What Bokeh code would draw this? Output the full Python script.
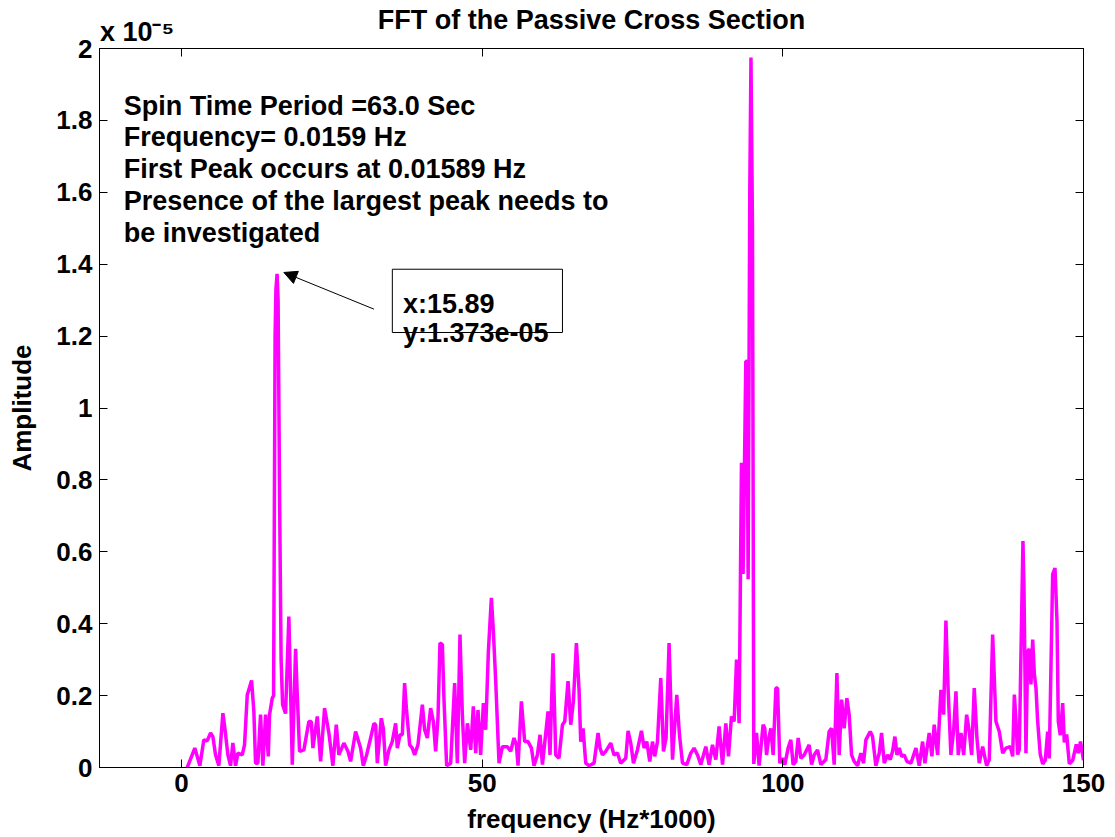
from bokeh.plotting import figure
from bokeh.models import (Range1d, LinearAxis, FixedTicker, Label, Arrow,
                          NormalHead, BoxAnnotation, CustomLabelingPolicy)
from bokeh.embed import file_html
from bokeh.resources import INLINE

# ---- data (frequency in Hz*1000, amplitude in units of 1e-5) ----
freq = [0.95, 2.21, 3.05, 3.71, 4.27, 4.83, 5.21, 5.66, 6.21, 6.88, 7.21, 7.71, 8.15, 8.54, 8.99,
        9.37, 10.1, 10.48, 10.93, 11.65, 12.03, 12.31, 12.7, 13.14, 13.53, 13.98, 14.43, 14.64,
        15.09, 15.31, 15.56, 15.7, 15.89, 16.06, 16.31, 16.56, 16.81, 17.3, 17.85, 18.42, 18.97,
        19.25, 19.63, 20.35, 21.18, 21.58, 21.85, 22.58, 23.13, 23.79, 24.51, 25.17, 25.74, 26.17,
        27.0, 27.67, 28.12, 28.95, 29.78, 30.23, 30.78, 31.45, 32.0, 32.28, 32.56, 33.22, 33.56,
        33.94, 34.5, 35.05, 35.61, 35.89, 36.33, 36.72, 37.1, 37.39, 37.94, 38.38, 38.77, 39.32,
        40.05, 40.43, 40.88, 41.43, 41.88, 42.26, 42.65, 42.98, 43.38, 43.64, 44.09, 44.76, 45.42,
        45.87, 46.31, 46.7, 47.09, 47.54, 48.09, 48.53, 48.92, 49.3, 49.75, 50.2, 50.58, 51.03,
        51.53, 51.86, 52.25, 52.8, 53.36, 54.19, 54.74, 55.29, 55.69, 55.96, 56.52, 57.07, 57.62,
        58.19, 58.62, 59.18, 59.62, 60.02, 60.4, 60.95, 61.28, 61.78, 62.23, 62.78, 63.35, 63.73,
        64.28, 64.73, 65.17, 65.67, 66.11, 66.39, 66.78, 67.22, 67.77, 68.6, 69.27, 69.6, 70.0,
        70.55, 71.38, 71.93, 72.5, 73.04, 73.88, 74.26, 74.71, 75.16, 75.82, 76.49, 76.92, 77.37,
        77.87, 78.32, 78.7, 79.15, 79.7, 80.15, 80.58, 81.08, 81.65, 82.36, 82.81, 83.31, 84.03,
        84.69, 85.24, 85.81, 86.36, 87.19, 87.74, 88.3, 88.85, 89.4, 89.97, 90.52, 90.96, 91.46,
        91.9, 92.3, 92.73, 93.12, 93.39, 93.84, 94.01, 94.23, 94.5, 94.7, 94.95, 95.17, 95.62,
        96.06, 96.72, 97.0, 97.29, 97.56, 98.0, 98.39, 98.84, 99.12, 99.5, 99.95, 100.33, 100.88,
        101.33, 101.71, 102.16, 102.55, 103.0, 103.55, 104.38, 104.78, 105.21, 105.77, 106.32,
        107.15, 107.7, 108.1, 108.54, 108.99, 109.37, 109.77, 110.2, 110.65, 111.03, 111.43,
        111.86, 112.43, 112.98, 113.42, 113.81, 114.53, 114.92, 115.47, 116.03, 116.42, 116.86,
        117.42, 117.86, 118.25, 118.64, 118.97, 119.35, 119.75, 120.18, 120.63, 121.3, 122.13,
        122.68, 123.24, 123.63, 124.34, 124.79, 125.17, 125.74, 126.29, 126.74, 127.12, 127.5,
        127.95, 128.4, 128.79, 129.17, 129.62, 130.07, 130.57, 131.0, 131.4, 131.83, 132.28,
        132.66, 133.23, 133.89, 134.33, 134.89, 135.44, 135.99, 136.56, 137.1, 137.82, 138.22,
        138.5, 138.77, 139.05, 139.32, 139.93, 140.1, 140.43, 140.72, 140.98, 141.26, 141.55,
        141.83, 142.1, 142.38, 142.81, 143.21, 143.64, 144.04, 144.31, 144.87, 145.26, 145.59,
        145.81, 146.14, 146.54, 146.81, 147.2, 147.64, 148.2, 148.8, 149.13, 149.5, 150.0]

amp = [0.0, 0.054, 0.005, 0.077, 0.074, 0.096, 0.086, 0.035, 0.005, 0.151, 0.109, 0.035, 0.005, 0.068, 0.005,
       0.04, 0.035, 0.063, 0.202, 0.242, 0.156, 0.012, 0.012, 0.147, 0.005, 0.147, 0.031, 0.147,
       0.193, 0.2, 1.2, 1.33, 1.373, 1.3, 0.75, 0.3, 0.175, 0.15, 0.42, 0.008, 0.33,
       0.202, 0.045, 0.049, 0.128, 0.128, 0.054, 0.142, 0.017, 0.165, 0.096, 0.005, 0.119, 0.035,
       0.068, 0.045, 0.017, 0.1, 0.054, 0.005, 0.035, 0.082, 0.123, 0.119, 0.012, 0.137, 0.109,
       0.005, 0.049, 0.072, 0.123, 0.054, 0.091, 0.091, 0.235, 0.165, 0.063, 0.054, 0.035, 0.063,
       0.175, 0.105, 0.082, 0.165, 0.128, 0.045, 0.137, 0.346, 0.342, 0.193, 0.005, 0.012, 0.235,
       0.012, 0.37, 0.147, 0.012, 0.123, 0.049, 0.17, 0.04, 0.16, 0.035, 0.179, 0.105, 0.323,
       0.472, 0.379, 0.24, 0.012, 0.058, 0.058, 0.045, 0.082, 0.063, 0.005, 0.184, 0.072, 0.072,
       0.054, 0.005, 0.035, 0.091, 0.008, 0.068, 0.156, 0.035, 0.318, 0.035, 0.026, 0.119, 0.128,
       0.24, 0.119, 0.184, 0.346, 0.216, 0.072, 0.109, 0.012, 0.005, 0.012, 0.096, 0.054, 0.035,
       0.045, 0.068, 0.035, 0.04, 0.012, 0.026, 0.102, 0.068, 0.012, 0.049, 0.102, 0.054, 0.072,
       0.017, 0.072, 0.031, 0.072, 0.249, 0.045, 0.082, 0.346, 0.022, 0.202, 0.091, 0.012, 0.008,
       0.04, 0.054, 0.035, 0.008, 0.058, 0.008, 0.063, 0.022, 0.114, 0.008, 0.123, 0.031, 0.142,
       0.128, 0.3, 0.123, 0.848, 0.538, 1.13, 1.13, 0.524, 1.6, 1.975, 1.5, 0.01, 0.096,
       0.005, 0.119, 0.109, 0.035, 0.072, 0.109, 0.035, 0.221, 0.221, 0.012, 0.026, 0.008, 0.054,
       0.077, 0.008, 0.017, 0.082, 0.026, 0.035, 0.063, 0.008, 0.035, 0.049, 0.008,
       0.022, 0.1, 0.109, 0.008, 0.263, 0.035, 0.189, 0.109, 0.193, 0.147, 0.035,
       0.017, 0.005, 0.04, 0.012, 0.077, 0.1, 0.086, 0.005, 0.04, 0.096, 0.012,
       0.035, 0.022, 0.045, 0.086, 0.035, 0.054, 0.031, 0.035, 0.017, 0.012, 0.054,
       0.005, 0.072, 0.012, 0.096, 0.031, 0.119, 0.035, 0.216, 0.147, 0.409, 0.212,
       0.035, 0.102, 0.212, 0.035, 0.096, 0.035, 0.147, 0.1, 0.035, 0.221, 0.082,
       0.012, 0.058, 0.005, 0.022, 0.37, 0.128, 0.1, 0.04, 0.054, 0.058, 0.031,
       0.203, 0.13, 0.036, 0.05, 0.63, 0.5, 0.04, 0.323, 0.33, 0.231, 0.356,
       0.26, 0.22, 0.128, 0.036, 0.01, 0.02, 0.1, 0.025, 0.537, 0.555, 0.407,
       0.128, 0.09, 0.179, 0.07, 0.092, 0.01, 0.02, 0.064, 0.04, 0.072, 0.02]

x_ticks = [0, 50, 100, 150]
x_tick_labels = ["0", "50", "100", "150"]
y_ticks = [0, 0.2, 0.4, 0.6, 0.8, 1, 1.2, 1.4, 1.6, 1.8, 2]
y_tick_labels = ["0", "0.2", "0.4", "0.6", "0.8", "1", "1.2", "1.4", "1.6", "1.8", "2"]
exponent_text = "x 10\u207b\u2075"
exponent_pos = -7.4

title_text = "FFT of the Passive Cross Section"
x_label = "frequency (Hz*1000)"
y_label = "Amplitude"
info_lines = ["Spin Time Period =63.0  Sec",
              "Frequency= 0.0159  Hz",
              "First Peak occurs at 0.01589  Hz",
              "Presence of the largest peak  needs to",
              "be  investigated"]
tip_lines = ["x:15.89", "y:1.373e-05"]
peak_x, peak_y = 15.89, 1.373

FONT = "Liberation Sans"
FS = "27px"

p = figure(width=1115, height=837, x_range=Range1d(-13.64, 150), y_range=Range1d(0, 2),
           output_backend="svg", toolbar_location=None, tools="",
           min_border_left=99, min_border_right=32, min_border_top=48, min_border_bottom=70,
           x_axis_label=x_label, y_axis_label=y_label)
p.grid.visible = False
p.outline_line_color = "black"
p.background_fill_color = "white"
p.border_fill_color = "white"

p.line(freq, amp, line_color="#FF00FF", line_width=3.5)

no_labels = CustomLabelingPolicy(code="""
for (const i of indices) indices.unset(i)
return indices
""")


def style_text(ax, size="26px"):
    ax.major_label_text_font = FONT
    ax.major_label_text_font_size = size
    ax.major_label_text_font_style = "bold"
    ax.major_label_text_color = "black"
    ax.axis_label_text_font = FONT
    ax.axis_label_text_font_size = size
    ax.axis_label_text_font_style = "bold"
    ax.axis_label_text_color = "black"


def style_axis(ax, ticks, labels, show_labels=True):
    ax.ticker = FixedTicker(ticks=ticks)
    ax.major_tick_in = 8
    ax.major_tick_out = 0
    ax.minor_tick_line_color = None
    ax.axis_line_color = "black"
    ax.major_tick_line_color = "black"
    if show_labels:
        ax.major_label_overrides = dict(zip(ticks, labels))
        style_text(ax)
    else:
        ax.major_label_policy = no_labels
        ax.major_label_standoff = 0


xa = p.xaxis[0]
style_axis(xa, x_ticks, x_tick_labels)
xa.major_label_standoff = 6
xa.axis_label_standoff = 9

ya = p.yaxis[0]
style_axis(ya, y_ticks, y_tick_labels)
ya.major_label_standoff = 7
ya.axis_label_standoff = 16

# top axis: ticks only (box look)
top_ax = LinearAxis()
style_axis(top_ax, x_ticks, x_tick_labels, show_labels=False)
p.add_layout(top_ax, "above")

# right axis: ticks only
right_ax = LinearAxis()
style_axis(right_ax, y_ticks, y_tick_labels, show_labels=False)
p.add_layout(right_ax, "right")

# text row above the frame: exponent marker and the chart title
head_ax = LinearAxis(ticker=FixedTicker(ticks=[exponent_pos]),
                     major_label_overrides={exponent_pos: exponent_text},
                     axis_label=title_text)
style_text(head_ax, FS)
head_ax.axis_line_color = None
head_ax.major_tick_line_color = None
head_ax.minor_tick_line_color = None
head_ax.major_tick_in = 0
head_ax.major_tick_out = 0
head_ax.major_label_standoff = -9
head_ax.axis_label_standoff = -21
p.add_layout(head_ax, "above")

# info text block
info_y = [1.841, 1.753, 1.665, 1.577, 1.488]
for t, yy in zip(info_lines, info_y):
    p.add_layout(Label(x=-9.6, y=yy, text=t, text_font=FONT, text_font_size=FS,
                       text_font_style="bold", text_baseline="alphabetic", text_color="black"))

# data tip box
p.add_layout(BoxAnnotation(left=35.06, right=63.35, bottom=1.21, top=1.386,
                           fill_color="white", fill_alpha=1.0, line_color="black",
                           line_width=1, line_alpha=1.0))
for t, yy in zip(tip_lines, [1.289, 1.209]):
    p.add_layout(Label(x=36.82, y=yy, text=t, text_font=FONT, text_font_size=FS,
                       text_font_style="bold", text_baseline="alphabetic", text_color="black"))

p.add_layout(Arrow(end=NormalHead(size=13, fill_color="black", line_color="black", line_width=1),
                   x_start=32.0, y_start=1.275, x_end=peak_x + 1.13, y_end=peak_y + 0.004,
                   line_color="black", line_width=1))

open("out.html", "w").write(file_html(p, INLINE))
